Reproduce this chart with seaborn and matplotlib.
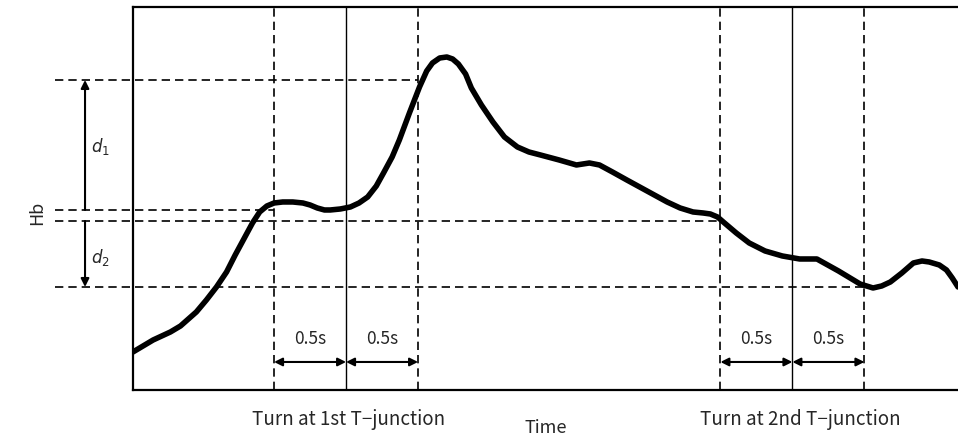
import seaborn as sns
import pandas as pd
from matplotlib import pyplot as plt

# Hb trace (time in s, Hb in arbitrary units)
time = [0.00, 0.14, 0.26, 0.33, 0.44, 0.51, 0.58, 0.65, 0.71, 0.77, 0.83, 0.88,
        0.93, 0.98, 1.04, 1.11, 1.18, 1.23, 1.28, 1.33, 1.37, 1.44, 1.51, 1.57,
        1.63, 1.69, 1.74, 1.80, 1.85, 1.92, 1.99, 2.04, 2.08, 2.13, 2.18, 2.22,
        2.26, 2.31, 2.35, 2.42, 2.50, 2.58, 2.67, 2.75, 2.83, 2.96, 3.08, 3.17,
        3.24, 3.33, 3.43, 3.57, 3.71, 3.80, 3.89, 3.96, 4.01, 4.06, 4.10, 4.19,
        4.28, 4.39, 4.51, 4.63, 4.75, 4.90, 5.05, 5.14, 5.20, 5.26, 5.34, 5.42,
        5.48, 5.53, 5.60, 5.65, 5.69, 5.73]
hb = [0.38, 0.50, 0.58, 0.64, 0.78, 0.90, 1.03, 1.18, 1.35, 1.51, 1.67, 1.78,
      1.84, 1.87, 1.88, 1.88, 1.87, 1.85, 1.82, 1.80, 1.80, 1.81, 1.83, 1.87,
      1.93, 2.04, 2.17, 2.33, 2.50, 2.77, 3.03, 3.19, 3.27, 3.32, 3.33, 3.31,
      3.26, 3.16, 3.02, 2.85, 2.68, 2.53, 2.43, 2.38, 2.35, 2.30, 2.25, 2.27,
      2.25, 2.18, 2.10, 1.99, 1.88, 1.82, 1.78, 1.77, 1.76, 1.73, 1.68, 1.57,
      1.47, 1.39, 1.34, 1.31, 1.31, 1.19, 1.06, 1.02, 1.04, 1.08, 1.17, 1.27,
      1.29, 1.28, 1.25, 1.20, 1.12, 1.03]

turns = [1.48, 4.58]
turn_labels = ["Turn at 1st T\u2212junction", "Turn at 2nd T\u2212junction"]
window = 0.5
# reference levels: (Hb level, time where the dashed line ends)
levels = [3.10, 1.80, 1.69, 1.03]
level_ends = [1.98, 0.98, 4.09, 5.09]

sns.set_style("white")
plt.rcParams['font.family'] = ['Noto Sans CJK JP', 'DejaVu Sans']

fig = plt.figure(figsize=(9.58, 4.37), dpi=100)
ax = fig.add_axes([0.1388, 0.1076, 0.8612, 0.8764])

df = pd.DataFrame({"time": time, "hb": hb})
sns.lineplot(data=df, x="time", y="hb", ax=ax, color="black", lw=4.0,
             solid_capstyle="round", solid_joinstyle="round")

ax.set_xlim(0, 5.73)
ax.set_ylim(0, 3.83)
ax.set_xticks([])
ax.set_yticks([])
ax.set_xlabel("")
ax.set_ylabel("")
for s in ["left", "bottom", "top"]:
    ax.spines[s].set_color("black")
    ax.spines[s].set_linewidth(1.6)
ax.spines["right"].set_visible(False)

dash = (0, (5, 3))
for t in turns:
    ax.axvline(t, color="black", lw=1.0)
    for v in (t - window, t + window):
        ax.axvline(v, color="black", lw=1.2, ls=dash)
    # 0.5 s arrows
    for a, b in ((t - window, t), (t, t + window)):
        ax.annotate("", xy=(a, 0.28), xytext=(b, 0.28),
                    arrowprops=dict(arrowstyle="<|-|>", color="black", lw=1.5,
                                    mutation_scale=12, shrinkA=0, shrinkB=0))
        ax.text((a + b) / 2, 0.51, "0.5s", ha="center", va="center", fontsize=12.5)

for lv, end in zip(levels, level_ends):
    ax.plot([-0.54, end], [lv, lv], color="black", lw=1.2, ls=dash, clip_on=False)

# d1 / d2 arrows to the left of the axes
ax.annotate("", xy=(-0.333, levels[0]), xytext=(-0.333, levels[1]),
            arrowprops=dict(arrowstyle="-|>", color="black", lw=1.5,
                            mutation_scale=12, shrinkA=0, shrinkB=0),
            annotation_clip=False)
ax.annotate("", xy=(-0.333, levels[3]), xytext=(-0.333, levels[2]),
            arrowprops=dict(arrowstyle="-|>", color="black", lw=1.5,
                            mutation_scale=12, shrinkA=0, shrinkB=0),
            annotation_clip=False)
ax.text(-0.29, 2.43, "$d_1$", fontsize=12, ha="left", va="center", clip_on=False)
ax.text(-0.29, 1.32, "$d_2$", fontsize=12, ha="left", va="center", clip_on=False)

for t, lab, xf in zip(turns, turn_labels, [349 / 958, 800 / 958]):
    fig.text(xf, 1 - 420 / 437, lab, ha="center", va="center", fontsize=13.5)
fig.text(546 / 958, 1 - 428 / 437, "Time", ha="center", va="center", fontsize=13)
fig.text(37 / 958, 1 - 213 / 437, "Hb", ha="center", va="center", fontsize=13,
         rotation=90)

fig.savefig("out.png", dpi=100)
